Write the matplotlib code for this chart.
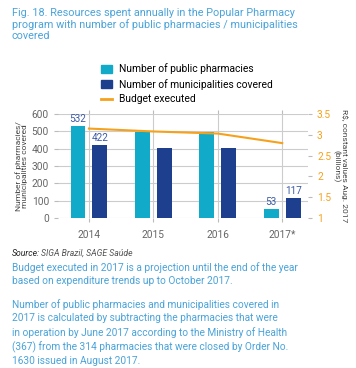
import numpy as np
import matplotlib.pyplot as plt
from matplotlib.patches import Patch
from matplotlib.lines import Line2D

plt.rcParams['font.family'] = ['Roboto', 'DejaVu Sans']

# adatok
years = ["2014", "2015", "2016", "2017*"]
pharmacies = [532, 498, 496, 53]
municipalities = [422, 406, 404, 117]
budget = [3.15, 3.08, 3.03, 2.80]
pharm_labels = {0: "532", 3: "53"}
muni_labels = {0: "422", 3: "117"}

cyan = "#12aac9"
navy = "#1e3e8e"
orange = "#f5a11c"
title_blue = "#4aa3da"
grey = "#666666"

fig = plt.figure(figsize=(3.56, 3.68), dpi=100)
ax = fig.add_axes([58/356, 1-218/368, 250/356, 104/368])

x = np.arange(len(years))
w = 0.23
off = 0.17
ax.bar(x - off, pharmacies, w, color=cyan, zorder=3)
ax.bar(x + off, municipalities, w, color=navy, zorder=3)
for i, t in pharm_labels.items():
    ax.text(x[i] - off, pharmacies[i] + 8, t, ha='center', va='bottom', fontsize=7.2, color="#3c5aa6")
for i, t in muni_labels.items():
    ax.text(x[i] + off, municipalities[i] + 8, t, ha='center', va='bottom', fontsize=7.2, color="#3c5aa6")

ax.set_xlim(-0.48, 3.4)
ax.set_ylim(0, 600)
ax.set_yticks(range(0, 601, 100))
ax.set_xticks(x)
ax.set_xticklabels(years)
ax.grid(True, color="#cccccc", lw=0.8, zorder=0)
for s in ax.spines.values():
    s.set_visible(False)
ax.tick_params(axis='both', colors="#bbbbbb", labelcolor=grey, labelsize=7.3, length=3, width=0.8)
ax.tick_params(axis='x', top=True, pad=6)
ax.set_ylabel("Number of pharmacies/\nmunicipalities covered", fontsize=6, color="#444444", labelpad=3, linespacing=1.0)

ax2 = ax.twinx()
ax2.plot(x, budget, color=orange, lw=1.5, zorder=4)
ax2.set_ylim(1, 3.5)
ax2.set_yticks([1, 1.5, 2, 2.5, 3, 3.5])
ax2.set_yticklabels(["1", "1.5", "2", "2.5", "3", "3.5"])
for s in ax2.spines.values():
    s.set_visible(False)
ax2.tick_params(axis='y', colors="#bbbbbb", labelcolor=orange, labelsize=7.3, length=3, width=0.8)
ax2.set_ylabel("R$, constant values Aug. 2017\n(billions)", rotation=-90, fontsize=6,
               color="#444444", labelpad=12, linespacing=1.1)

handles = [Patch(color=cyan), Patch(color=navy), Line2D([0], [0], color=orange, lw=2)]
labels = ["Number of public pharmacies", "Number of municipalities covered", "Budget executed"]
fig.legend(handles, labels, loc='upper left', bbox_to_anchor=(92/356, 1-54/368), frameon=False,
           fontsize=7.4, handlelength=1.0, handleheight=0.8, handletextpad=0.7, labelspacing=0.45)

fig.text(12/356, 1-8/368, "Fig. 18. Resources spent annually in the Popular Pharmacy\nprogram with number of public pharmacies / municipalities\ncovered",
         ha='left', va='top', fontsize=7.8, color=title_blue, linespacing=1.1)

fig.text(12/356, 1-253/368, "Source:", ha='left', va='center', fontsize=6.2, style='italic', color="#222222")
fig.text(41/356, 1-253/368, "SIGA Brazil, SAGE Saúde", ha='left', va='center', fontsize=6.2, style='italic', color="#555555")
fig.text(12/356, 1-262/368, "Budget executed in 2017 is a projection until the end of the year\nbased on expenditure trends up to October 2017.",
         ha='left', va='top', fontsize=7.3, color=title_blue, linespacing=1.4)
fig.text(12/356, 1-299/368,
         "Number of public pharmacies and municipalities covered in\n2017 is calculated by subtracting the pharmacies that were\n"
         "in operation by June 2017 according to the Ministry of Health\n(367) from the 314 pharmacies that were closed by Order No.\n1630 issued in August 2017.",
         ha='left', va='top', fontsize=7.3, color=title_blue, linespacing=1.4)

fig.savefig("out.png", dpi=100)
